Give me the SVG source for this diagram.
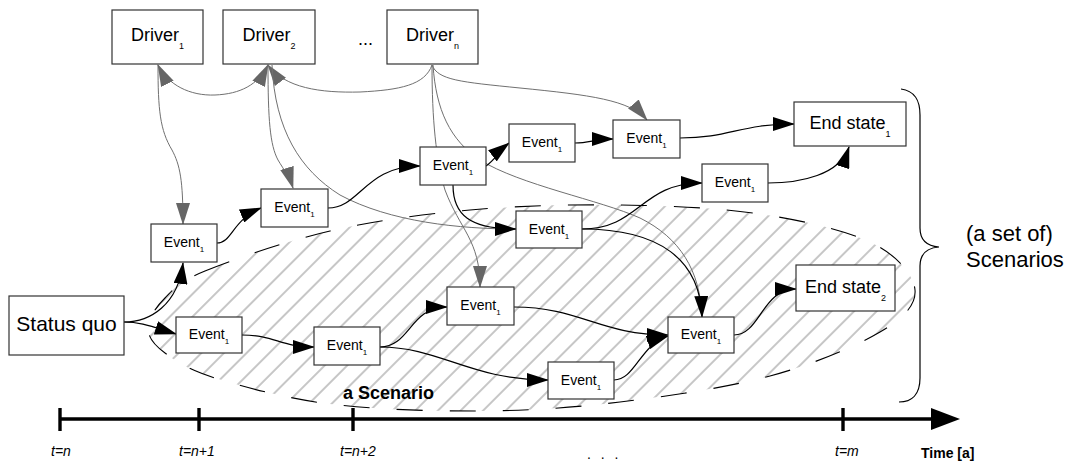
<svg xmlns="http://www.w3.org/2000/svg" width="1068" height="461" viewBox="0 0 1068 461">
<style>
.box{fill:#fff;stroke:#333;stroke-width:1.2}
.t{font-family:"Liberation Sans",Arial,sans-serif;fill:#000}
.ev{font-size:14px;text-anchor:middle}
.sub{font-size:8px}
.g{fill:none;stroke:#707070;stroke-width:1}
.b{fill:none;stroke:#000;stroke-width:1.2}
.ax{fill:none;stroke:#000;stroke-width:3.4}
.lbl{font-size:14px;font-style:italic}
</style>
<defs>
<marker id="ab" markerUnits="userSpaceOnUse" markerWidth="22" markerHeight="14" viewBox="0 0 22 14" refX="21" refY="7" orient="auto"><path d="M0,0 L22,7 L0,14 z" fill="#000"/></marker>
<marker id="ag" markerUnits="userSpaceOnUse" markerWidth="22" markerHeight="14" viewBox="0 0 22 14" refX="21" refY="7" orient="auto-start-reverse"><path d="M0,0 L22,7 L0,14 z" fill="#666"/></marker>
<pattern id="hatch" patternUnits="userSpaceOnUse" width="16" height="16" patternTransform="rotate(45)"><line x1="8" y1="0" x2="8" y2="16" stroke="#808080" stroke-width="0.9"/></pattern>
</defs>

<g id="scenario-region">
<path d="M205,271 C232.5,259.8 285.8,241.2 330,231 C374.2,220.8 421.7,214.3 470,210 C518.3,205.7 571.7,204.3 620,205 C668.3,205.7 718,207.7 760,214 C802,220.3 846.2,230.3 872,243 C897.8,255.7 913.7,275.2 915,290 C916.3,304.8 904.2,317.7 880,332 C855.8,346.3 813.3,364.3 770,376 C726.7,387.7 668.3,396.2 620,402 C571.7,407.8 528.3,410.7 480,411 C431.7,411.3 374.2,409.5 330,404 C285.8,398.5 242.5,386.5 215,378 C187.5,369.5 176.2,361.3 165,353 C153.8,344.7 148,337.2 148,328 C148,318.8 155.5,307.5 165,298 C174.5,288.5 177.5,282.2 205,271 Z" fill="url(#hatch)" stroke="#000" stroke-width="1.1" stroke-dasharray="26 27"/>
<text class="t" x="343" y="399" font-size="18" font-weight="bold">a Scenario</text>
</g>

<g id="connectors">
<path class="g" d="M158,65 C158,110 160,130 172,150 C180,165 183,180 183,224" marker-end="url(#ag)"/>
<path class="g" d="M158,65 C168,85 190,96 215,95 C240,94 258,85 268,65" marker-start="url(#ag)" marker-end="url(#ag)"/>
<path class="g" d="M432,65 C425,85 400,90 360,92 C320,93 285,88 268,65" marker-end="url(#ag)"/>
<path class="g" d="M432,65 C438,80 460,82 520,88 C590,95 630,100 647,120" marker-end="url(#ag)"/>
<path class="g" d="M432,65 C432,120 436,160 445,190 C460,230 480,240 480,287" marker-end="url(#ag)"/>
<path class="g" d="M433,65 C436,110 450,140 480,160 C520,185 600,200 640,218 C680,238 700,270 702,317"/>
<path class="g" d="M268,65 C268,120 270,145 278,160 C284,170 290,178 293,188" marker-end="url(#ag)"/>
<path class="g" d="M272,65 C275,130 300,170 340,195 C390,222 460,229 516,229"/>
<path class="b" d="M124,322 C150,322 178,305 183,263" marker-end="url(#ab)"/>
<path class="b" d="M124,322 C140,322 150,326 176,334" marker-end="url(#ab)"/>
<path class="b" d="M217,243 C232,243 232,220 261,208" marker-end="url(#ab)"/>
<path class="b" d="M328,208 C360,208 365,166 420,166" marker-end="url(#ab)"/>
<path class="b" d="M486,166 C495,160 500,150 509,143" marker-end="url(#ab)"/>
<path class="b" d="M575,143 C590,143 595,139 613,139" marker-end="url(#ab)"/>
<path class="b" d="M680,138 C730,138 740,124 794,124" marker-end="url(#ab)"/>
<path class="b" d="M768,183 C800,183 840,175 849,147" marker-end="url(#ab)"/>
<path class="b" d="M582,229 C640,229 640,183 702,183" marker-end="url(#ab)"/>
<path class="b" d="M582,229 C660,229 700,260 702,317" marker-end="url(#ab)"/>
<path class="b" d="M453,185 C453,215 470,229 516,229" marker-end="url(#ab)"/>
<path class="b" d="M242,335 C275,335 280,347 314,347" marker-end="url(#ab)"/>
<path class="b" d="M380,347 C410,347 410,307 447,307" marker-end="url(#ab)"/>
<path class="b" d="M380,347 C440,347 470,380 548,380" marker-end="url(#ab)"/>
<path class="b" d="M514,307 C580,307 600,335 668,335" marker-end="url(#ab)"/>
<path class="b" d="M614,380 C635,380 640,345 668,336" marker-end="url(#ab)"/>
<path class="b" d="M734,335 C760,335 762,289 796,289" marker-end="url(#ab)"/>
</g>

<g id="driver1"><rect class="box" x="112" y="10" width="91" height="54"/><text class="t" x="157.5" y="41" font-size="18" text-anchor="middle">Driver<tspan font-size="9" dy="8">1</tspan></text></g>
<g id="driver2"><rect class="box" x="223" y="10" width="92" height="54"/><text class="t" x="269" y="41" font-size="18" text-anchor="middle">Driver<tspan font-size="9" dy="8">2</tspan></text></g>
<text class="t" x="358" y="45" font-size="18">...</text>
<g id="drivern"><rect class="box" x="387" y="10" width="91" height="54"/><text class="t" x="432.5" y="41" font-size="18" text-anchor="middle">Driver<tspan font-size="9" dy="8">n</tspan></text></g>

<g id="status-quo"><rect class="box" x="9" y="296" width="115" height="59"/><text class="t" x="66.5" y="331" font-size="21" text-anchor="middle">Status quo</text></g>

<g id="event-a"><rect class="box" x="151" y="224" width="66" height="38"/><text class="t ev" x="184" y="247">Event<tspan class="sub" dy="5">1</tspan></text></g>
<g id="event-b"><rect class="box" x="261" y="189" width="67" height="38"/><text class="t ev" x="294.5" y="212">Event<tspan class="sub" dy="5">1</tspan></text></g>
<g id="event-c"><rect class="box" x="176" y="317" width="66" height="36"/><text class="t ev" x="209" y="339">Event<tspan class="sub" dy="5">1</tspan></text></g>
<g id="event-d"><rect class="box" x="314" y="327" width="66" height="38"/><text class="t ev" x="347" y="350">Event<tspan class="sub" dy="5">1</tspan></text></g>
<g id="event-e"><rect class="box" x="420" y="147" width="66" height="38"/><text class="t ev" x="453" y="170">Event<tspan class="sub" dy="5">1</tspan></text></g>
<g id="event-f"><rect class="box" x="509" y="124" width="66" height="38"/><text class="t ev" x="542" y="147">Event<tspan class="sub" dy="5">1</tspan></text></g>
<g id="event-g"><rect class="box" x="613" y="120" width="67" height="38"/><text class="t ev" x="646.5" y="143">Event<tspan class="sub" dy="5">1</tspan></text></g>
<g id="event-h"><rect class="box" x="516" y="211" width="66" height="37"/><text class="t ev" x="549" y="234">Event<tspan class="sub" dy="5">1</tspan></text></g>
<g id="event-i"><rect class="box" x="447" y="287" width="67" height="38"/><text class="t ev" x="480.5" y="310">Event<tspan class="sub" dy="5">1</tspan></text></g>
<g id="event-j"><rect class="box" x="702" y="164" width="66" height="38"/><text class="t ev" x="735" y="187">Event<tspan class="sub" dy="5">1</tspan></text></g>
<g id="event-k"><rect class="box" x="668" y="317" width="66" height="36"/><text class="t ev" x="701" y="339">Event<tspan class="sub" dy="5">1</tspan></text></g>
<g id="event-l"><rect class="box" x="548" y="362" width="66" height="37"/><text class="t ev" x="581" y="385">Event<tspan class="sub" dy="5">1</tspan></text></g>

<g id="end-state-1"><rect class="box" x="794" y="102" width="112" height="44"/><text class="t" x="850" y="129" font-size="18" text-anchor="middle">End state<tspan font-size="9" dy="8">1</tspan></text></g>
<g id="end-state-2"><rect class="box" x="796" y="265" width="99" height="46"/><text class="t" x="845.5" y="293" font-size="18" text-anchor="middle">End state<tspan font-size="9" dy="8">2</tspan></text></g>

<g id="scenario-set">
<path d="M901,89 C915,91 920,100 920,115 L920,228 C920,240 926,246 939,247 C926,248 920,254 920,266 L920,378 C920,394 912,402 899,402" fill="none" stroke="#000" stroke-width="1.2"/>
<text class="t" x="966" y="241" font-size="22">(a set of)</text>
<text class="t" x="966" y="267" font-size="22">Scenarios</text>
</g>

<g id="time-axis">
<line class="ax" x1="60" y1="419" x2="935" y2="419"/>
<polygon points="931,408 960,419 931,430" fill="#000"/>
<line class="ax" x1="60" y1="408" x2="60" y2="431" stroke-width="3"/>
<line class="ax" x1="199" y1="408" x2="199" y2="431" stroke-width="3"/>
<line class="ax" x1="353" y1="408" x2="353" y2="431" stroke-width="3"/>
<line class="ax" x1="843" y1="408" x2="843" y2="431" stroke-width="3"/>
<text class="t lbl" x="51" y="456">t=n</text>
<text class="t lbl" x="179" y="456">t=n+1</text>
<text class="t lbl" x="340" y="456">t=n+2</text>
<text class="t lbl" x="835" y="456">t=m</text>
<text class="t" x="921" y="458" font-size="14" font-weight="bold">Time [a]</text>
<text class="t" x="587" y="459" font-size="14" letter-spacing="3">. . .</text>
</g>
</svg>
